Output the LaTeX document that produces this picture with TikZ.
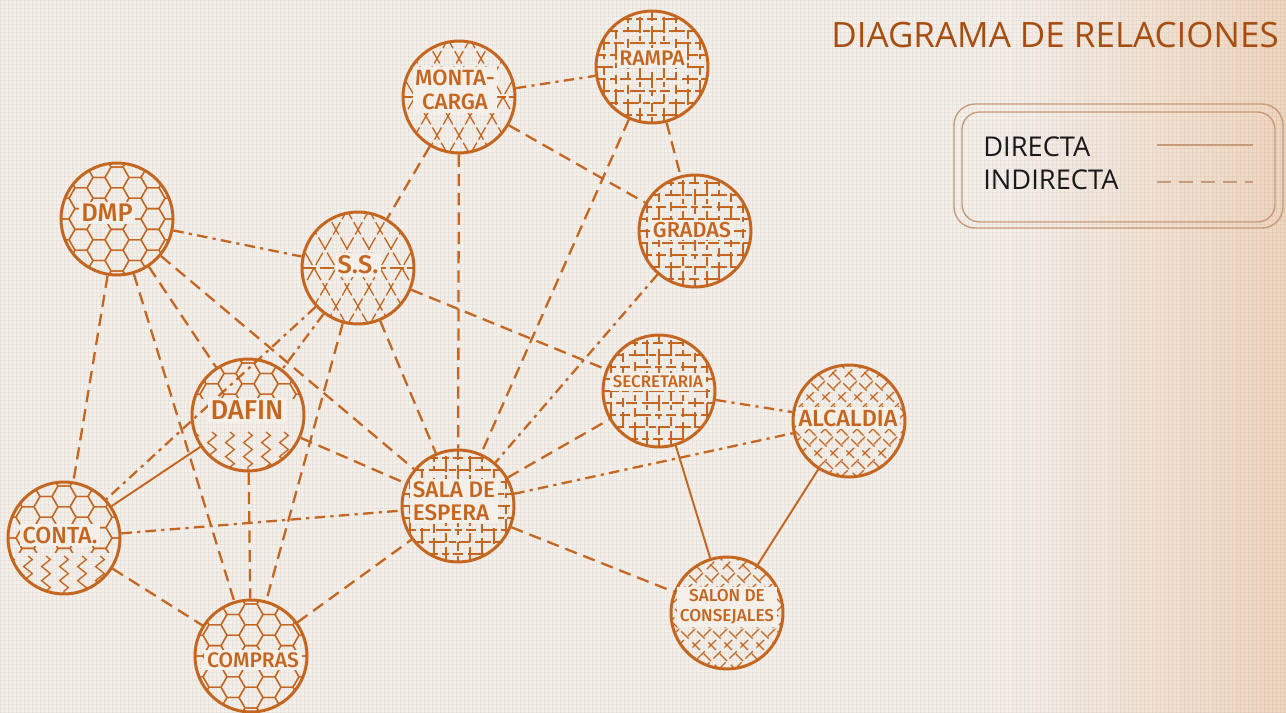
\documentclass[tikz,border=0pt]{standalone}
\usepackage{fontspec}
\setmainfont{Fira Sans}
\newfontfamily\lblfont{Fira Sans}[UprightFont=* Medium]
\newfontfamily\legfont{Open Sans}
\usetikzlibrary{decorations.pathmorphing}
\definecolor{brn}{HTML}{C4661F}
\definecolor{bgc}{HTML}{F5EFEA}
\definecolor{peach}{HTML}{EFD6BF}
\definecolor{ttl}{HTML}{A84D10}
\definecolor{legc}{HTML}{C89B78}

\newcommand\hexzone[5]{% cx cy r y1 y2
 \begin{scope}
 \clip (#1,#2) circle (#3);
 \clip (#1-#3,#4) rectangle (#1+#3,#5);
 \foreach \i in {-4,...,4}{\foreach \j in {-4,...,4}{
   \pgfmathsetmacro\hx{#1+18*\i}
   \pgfmathsetmacro\hy{#2+20.78*\j+10.39*mod(abs(\i),2)}
   \draw[pat] (\hx,\hy) +(0:12) -- +(60:12) -- +(120:12) -- +(180:12) -- +(240:12) -- +(300:12) -- cycle;}}
 \end{scope}}
\newcommand\zigzone[4]{% cx cy r ytop
 \begin{scope}
 \clip (#1,#2) circle (#3);
 \foreach \k in {-3,...,3}{
   \draw[pat, decorate, decoration={zigzag, segment length=8pt, amplitude=2.5pt}] (#1+\k*18,#4) -- (#1+\k*18,#2+#3);}
 \end{scope}}
\newcommand\brickpat[3]{% cx cy r
 \begin{scope}
 \clip (#1,#2) circle (#3);
 \foreach \k in {-5,...,5}{
   \pgfmathsetmacro\pha{abs(\k)*3.7}
   \pgfmathsetmacro\phb{abs(\k)*5.3}
   \draw[pat, dash pattern=on 9pt off 2pt on 4pt off 2pt on 6pt off 3pt, dash phase=\pha pt] (#1-#3,#2+\k*12) -- (#1+#3,#2+\k*12);
   \draw[pat, dash pattern=on 5pt off 3pt on 9pt off 2pt on 3pt off 4pt, dash phase=\phb pt] (#1+\k*12,#2-#3) -- (#1+\k*12,#2+#3);}
 \end{scope}}
\newcommand\crosspat[3]{% cx cy r
 \begin{scope}
 \clip (#1,#2) circle (#3);
 \foreach \k in {-8,...,8}{
   \draw[pat, dash pattern=on 6pt off 3pt] (#1+\k*16-60,#2-60) -- (#1+\k*16+60,#2+60);
   \draw[pat, dash pattern=on 6pt off 3pt, dash phase=2pt] (#1+\k*16+60,#2-60) -- (#1+\k*16-60,#2+60);}
 \end{scope}}
\newcommand\tripat[3]{% cx cy r
 \begin{scope}
 \clip (#1,#2) circle (#3);
 \foreach \k in {-6,...,6}{
   \draw[pat, dash pattern=on 8pt off 2pt] (#1+\k*22-35,#2-61) -- (#1+\k*22+35,#2+61);
   \draw[pat, dash pattern=on 8pt off 2pt] (#1+\k*22+35,#2-61) -- (#1+\k*22-35,#2+61);}
 \draw[pat, dash pattern=on 8pt off 2pt] (#1-#3,#2) -- (#1+#3,#2);
 \end{scope}}

\begin{document}
\begin{tikzpicture}[x=0.02cm,y=-0.02cm,
  pat/.style={draw=brn, line width=0.75pt},
  area/.style={circle, draw=brn, line width=1.7pt, minimum size=2.24cm, inner sep=0pt},
  lbl/.style={text=brn, fill=bgc, inner sep=1.5pt, font=\lblfont},
  ind/.style={draw=brn, line width=1.3pt, dash pattern=on 7pt off 4pt},
  inddot/.style={draw=brn, line width=1.3pt, dash pattern=on 6pt off 3pt on 1.8pt off 3pt},
  dir/.style={draw=brn, line width=1.1pt}]
\useasboundingbox (0,0) rectangle (1286,713);
\fill[bgc] (0,0) rectangle (1286,713);
\shade[left color=bgc, right color=peach] (1000,0) rectangle (1286,713);
\foreach \x in {0,4,...,1284}{\draw[black, opacity=0.04, line width=0.5pt] (\x,0) -- (\x,713);}
\foreach \y in {0,4,...,712}{\draw[black, opacity=0.035, line width=0.5pt] (0,\y) -- (1286,\y);}

% patterns
\tripat{459}{97}{55}
\brickpat{652}{67}{55}
\brickpat{695}{231}{56}
\hexzone{117}{219}{56}{150}{290}
\tripat{358}{268}{56}
\hexzone{248}{415}{56}{350}{398}
\zigzone{248}{415}{56}{432}
\brickpat{659}{391}{56}
\crosspat{849}{421}{56}
\brickpat{458}{506}{55}
\hexzone{64}{538}{56}{470}{552}
\zigzone{64}{538}{56}{556}
\hexzone{251}{656}{56}{590}{720}
\crosspat{727}{613}{56}

% areas
\node[area] (mc) at (459,97) {};
\node[area] (rampa) at (652,67) {};
\node[area] (gradas) at (695,231) {};
\node[area] (dmp) at (117,219) {};
\node[area] (ss) at (358,268) {};
\node[area] (dafin) at (248,415) {};
\node[area] (secr) at (659,391) {};
\node[area] (alc) at (849,421) {};
\node[area] (sala) at (458,506) {};
\node[area] (conta) at (64,538) {};
\node[area] (compras) at (251,656) {};
\node[area] (salon) at (727,613) {};

% connectors
\draw[ind] (mc) -- (gradas);
\draw[ind] (mc) -- (ss);
\draw[ind] (mc) -- (sala);
\draw[ind] (rampa) -- (gradas);
\draw[ind] (rampa) -- (sala);
\draw[ind] (dmp) -- (dafin);
\draw[ind] (dmp) -- (sala);
\draw[ind] (dmp) -- (conta);
\draw[ind] (dmp) -- (compras);
\draw[ind] (ss) -- (compras);
\draw[ind] (ss) -- (sala);
\draw[ind] (ss) -- (secr);
\draw[ind] (dafin) -- (compras);
\draw[ind] (dafin) -- (sala);
\draw[ind] (conta) -- (compras);
\draw[ind] (compras) -- (sala);
\draw[ind] (sala) -- (secr);
\draw[ind] (sala) -- (salon);
\draw[inddot] (mc) -- (rampa);
\draw[inddot] (gradas) -- (sala);
\draw[inddot] (dmp) -- (ss);
\draw[inddot] (ss) -- (conta);
\draw[inddot] (ss) -- (dafin);
\draw[inddot] (conta) -- (sala);
\draw[inddot] (sala) -- (alc);
\draw[inddot] (secr) -- (alc);
\draw[dir] (dafin) -- (conta);
\draw[dir] (secr) -- (salon);
\draw[dir] (alc) -- (salon);

% labels
\node[lbl, align=center, font=\lblfont\fontsize{12.6}{13.6}\selectfont] (mct) at (455,90) {MONTA-\\CARGA};
\node[lbl, font=\lblfont\fontsize{12}{13}\selectfont] (rampat) at (652,58) {RAMPA};
\node[lbl, font=\lblfont\fontsize{12.3}{13}\selectfont] (gradast) at (692,230) {GRADAS};
\node[lbl, font=\lblfont\fontsize{14.5}{16}\selectfont] (dmpt) at (107,213) {DMP};
\node[lbl, font=\lblfont\fontsize{14.5}{16}\selectfont] (sst) at (358,265) {S.S.};
\node[lbl, font=\lblfont\fontsize{15.5}{17}\selectfont] (dafint) at (247,410) {DAFIN};
\node[lbl, font=\lblfont\fontsize{9.6}{11}\selectfont] (secrt) at (658,382) {SECRETARIA};
\node[lbl, font=\lblfont\fontsize{13.3}{14}\selectfont] (alct) at (848,418) {ALCALDIA};
\node[lbl, align=left, font=\lblfont\fontsize{12.8}{13}\selectfont] (salat) at (454,501) {SALA DE\\ESPERA};
\node[lbl, font=\lblfont\fontsize{13.2}{14}\selectfont] (contat) at (60,535) {CONTA.};
\node[lbl, font=\lblfont\fontsize{12}{13}\selectfont] (comprast) at (253,660) {COMPRAS};
\node[lbl, align=center, font=\lblfont\fontsize{9.8}{11.3}\selectfont] (salont) at (727,607) {SALON DE\\CONSEJALES};

% title
\node[text=ttl, font=\legfont\fontsize{19.9}{21}\selectfont, anchor=east, inner sep=0pt] (title) at (1279,35) {DIAGRAMA DE RELACIONES};

% legend
\draw[legc, line width=0.8pt, rounded corners=12] (954,104) rectangle (1283,228);
\draw[legc, line width=0.8pt, rounded corners=10] (962,112) rectangle (1275,222);
\node[font=\legfont\fontsize{15.5}{16}\selectfont, text=black!90, anchor=west, inner sep=0pt] (dirt) at (983,147) {DIRECTA};
\node[font=\legfont\fontsize{15.5}{16}\selectfont, text=black!90, anchor=west, inner sep=0pt] (indt) at (983,180) {INDIRECTA};
\coordinate (d1) at (1157,145);
\coordinate (d2) at (1253,145);
\coordinate (i1) at (1157,182);
\coordinate (i2) at (1253,182);
\draw[legc, line width=0.9pt] (d1) -- (d2);
\draw[legc, line width=0.9pt, dash pattern=on 8pt off 4.5pt] (i1) -- (i2);
\end{tikzpicture}
\end{document}
